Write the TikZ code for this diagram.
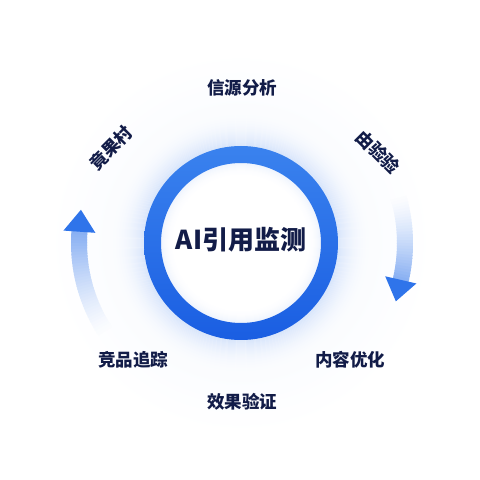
\documentclass[tikz,border=0pt]{standalone}
\usepackage{fontspec}
\newfontfamily\cjk{Noto Sans CJK SC Black}
\definecolor{ringtop}{HTML}{3A82EE}
\definecolor{ringbot}{HTML}{1A5EE2}
\definecolor{glowc}{HTML}{3A7BEA}
\definecolor{headc}{HTML}{2F74EA}
\definecolor{navy}{HTML}{121C48}
\tikzset{
  lbl/.style={font=\cjk\fontsize{17.5}{18}\selectfont, text=navy, inner sep=0pt},
  title/.style={font=\cjk\fontsize{26}{28}\selectfont, text=navy, inner sep=0pt},
}
\begin{document}
\begin{tikzpicture}[x=1pt,y=1pt]
\useasboundingbox (0,0) rectangle (480,480);
\fill[white] (0,0) rectangle (480,480);
\coordinate (c) at (241,237);
% faint outer halo
\foreach \i [evaluate=\i as \p using 2.2*(1-\i/60)] in {0,...,60} {
  \draw[line width=1.1pt, glowc!\p!white] (c) circle (130+\i);
}
% glow around ring
\foreach \i [evaluate=\i as \p using 18*(1-\i/34)^2+2.2] in {0,...,33} {
  \draw[line width=1.2pt, glowc!\p!white] (c) circle (97+\i);
}
% inner disk and inner glow
\fill[white] (c) circle (80);
\foreach \i [evaluate=\i as \p using 9*(1-\i/14)^2] in {0,...,13} {
  \draw[line width=1.2pt, glowc!\p!white] (c) circle (80-\i);
}
% ring
\path[top color=ringtop, bottom color=ringbot, even odd rule] (c) circle (97) (c) circle (80);
% center text
\node[title] (t) at (241,240) {AI引用监测};
% labels
\node[lbl] (l1) at (242,392) {信源分析};
\node[lbl, rotate=45] (l2) at (111,332) {竟果村};
\node[lbl, rotate=-45] (l3) at (378,328) {由验验};
\node[lbl] (l4) at (133,120) {竞品追踪};
\node[lbl] (l5) at (350,120) {内容优化};
\node[lbl] (l6) at (242,78) {效果验证};
% left arrow shaft
\foreach \k [evaluate=\k as \p using 2+60*(\k/37)^1.3, evaluate=\k as \a using 213-\k] in {0,...,37} {
  \draw[line width=16pt, glowc!\p!white] (c) ++(\a:162) arc (\a:\a-1.3:162);
}
\begin{scope}[shift={(c)}]
 \begin{scope}[shift={(176:162)}, rotate=86]
  \fill[headc] (22,0) -- (0,16) -- (0,-16) -- cycle;
 \end{scope}
\end{scope}
% right arrow shaft
\foreach \k [evaluate=\k as \p using 2+60*(\k/29)^1.3, evaluate=\k as \a using 16-\k] in {0,...,29} {
  \draw[line width=16pt, glowc!\p!white] (c) ++(\a:164) arc (\a:\a-1.3:164);
}
\begin{scope}[shift={(c)}]
 \begin{scope}[shift={(-13:164)}, rotate=-103]
  \fill[headc] (22,0) -- (0,16) -- (0,-16) -- cycle;
 \end{scope}
\end{scope}
\end{tikzpicture}
\end{document}
